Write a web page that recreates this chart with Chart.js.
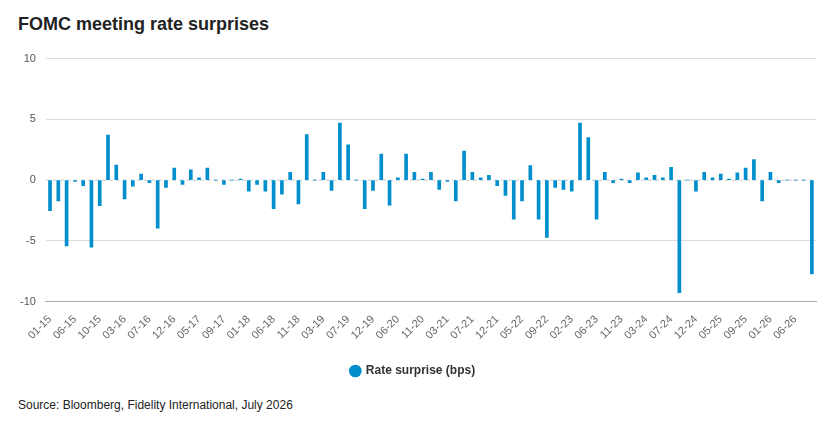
<!DOCTYPE html>
<html>
<head>
  <meta charset="UTF-8">
  <title>FOMC meeting rate surprises</title>
  <script src="https://cdn.jsdelivr.net/npm/chart.js"></script>
  <style>
    body { margin: 0; background: #fff; font-family: Arial, "Liberation Sans", sans-serif; }
    #wrap { position: relative; width: 827px; height: 427px; }
    #title { position: absolute; left: 18px; top: 14px; font-size: 18px; font-weight: bold; color: #222; }
    #source { position: absolute; left: 18px; top: 398px; font-size: 12px; color: #222; }
    #box { position: absolute; left: 10px; top: 42px; width: 808px; height: 345px; }
  </style>
</head>
<body>
<div id="wrap">
  <div id="title">FOMC meeting rate surprises</div>
  <div id="box"><canvas id="myChart"></canvas></div>
  <div id="source">Source: Bloomberg, Fidelity International, July 2026</div>
</div>
<script>
  // meeting dates (MM-YY), one per bar
  const meetings = [
    '01-15','03-15','04-15','06-15','07-15','09-15','10-15','12-15',
    '01-16','03-16','04-16','06-16','07-16','09-16','11-16','12-16',
    '02-17','03-17','05-17','06-17','07-17','09-17','11-17','12-17',
    '01-18','03-18','05-18','06-18','08-18','09-18','11-18','12-18',
    '01-19','03-19','05-19','06-19','07-19','09-19','10-19','12-19',
    '01-20','03-20','04-20','06-20','07-20','09-20','11-20','12-20',
    '01-21','03-21','04-21','06-21','07-21','09-21','11-21','12-21',
    '01-22','03-22','05-22','06-22','07-22','09-22','11-22','12-22',
    '02-23','03-23','05-23','06-23','07-23','09-23','11-23','12-23',
    '01-24','03-24','05-24','06-24','07-24','09-24','11-24','12-24',
    '01-25','03-25','05-25','06-25','07-25','09-25','10-25','12-25',
    '01-26','03-26','04-26','06-26','07-26'
  ];
  // every third date is shown on the axis
  const shownLabels = ['01-15','06-15','10-15','03-16','07-16','12-16','05-17','09-17','01-18','06-18','11-18',
    '03-19','07-19','12-19','06-20','11-20','03-21','07-21','12-21','05-22','09-22','02-23','06-23','11-23',
    '03-24','07-24','12-24','05-25','09-25','01-26','06-26'];

  const surprise = [
    -2.5, -1.7, -5.4, -0.1, -0.45, -5.5, -2.1, 3.7,
    1.25, -1.55, -0.5, 0.5, -0.2, -3.95, -0.6, 1.0,
    -0.35, 0.85, 0.2, 1.0, 0, -0.35, 0, 0.1,
    -0.9, -0.35, -0.9, -2.35, -1.15, 0.65, -1.95, 3.75,
    0, 0.65, -0.85, 4.7, 2.9, 0, -2.35, -0.85,
    2.15, -2.05, 0.2, 2.15, 0.65, 0.1, 0.65, -0.75,
    -0.1, -1.7, 2.4, 0.65, 0.2, 0.4, -0.45, -1.25,
    -3.2, -1.7, 1.2, -3.2, -4.7, -0.6, -0.75, -0.9,
    4.7, 3.5, -3.2, 0.65, -0.2, 0.1, -0.2, 0.6,
    0.2, 0.4, 0.2, 1.05, -9.25, 0, -0.9, 0.65,
    0.2, 0.5, 0.1, 0.6, 1.0, 1.7, -1.7, 0.65,
    -0.2, 0, 0, 0, -7.7
  ];

  const zeroLine = {
    id: 'zeroLine',
    beforeDatasetsDraw(chart) {
      const y = chart.scales.y.getPixelForValue(0);
      const ctx = chart.ctx;
      ctx.save();
      ctx.strokeStyle = '#cccccc';
      ctx.lineWidth = 1;
      ctx.setLineDash([4, 3]);
      ctx.beginPath();
      ctx.moveTo(chart.chartArea.left, y);
      ctx.lineTo(chart.chartArea.right, y);
      ctx.stroke();
      ctx.restore();
    }
  };

  const ctx = document.getElementById('myChart').getContext('2d');
  const myChart = new Chart(ctx, {
    type: 'bar',
    data: {
      labels: meetings,
      datasets: [{
        label: 'Rate surprise (bps)',
        data: surprise,
        backgroundColor: '#008fcc',
        borderWidth: 0,
        barThickness: 3
      }]
    },
    options: {
      responsive: true,
      maintainAspectRatio: false,
      animation: false,
      layout: { padding: { right: 2 } },
      plugins: {
        legend: {
          position: 'bottom',
          labels: {
            usePointStyle: true,
            pointStyle: 'circle',
            boxWidth: 9,
            boxHeight: 9,
            padding: 20,
            color: '#333',
            font: { size: 12, weight: 'bold', family: 'Arial, "Liberation Sans", sans-serif' }
          }
        },
        tooltip: { enabled: false }
      },
      scales: {
        x: {
          grid: { display: false },
          border: { color: '#aaaaaa' },
          ticks: {
            autoSkip: false,
            maxRotation: 45,
            minRotation: 45,
            color: '#666',
            font: { size: 11, family: 'Arial, "Liberation Sans", sans-serif' },
            callback: function (val, i) {
              return i % 3 === 0 ? shownLabels[i / 3] : null;
            }
          }
        },
        y: {
          min: -10,
          max: 10,
          border: { display: false },
          grid: {
            color: c => c.tick.value === 0 ? 'rgba(0,0,0,0)' : (c.tick.value === -10 ? '#aaaaaa' : '#dddddd'),
            drawTicks: false
          },
          ticks: {
            stepSize: 5,
            padding: 10,
            color: '#555',
            font: { size: 11, family: 'Arial, "Liberation Sans", sans-serif' }
          }
        }
      }
    },
    plugins: [zeroLine]
  });
</script>
</body>
</html>
